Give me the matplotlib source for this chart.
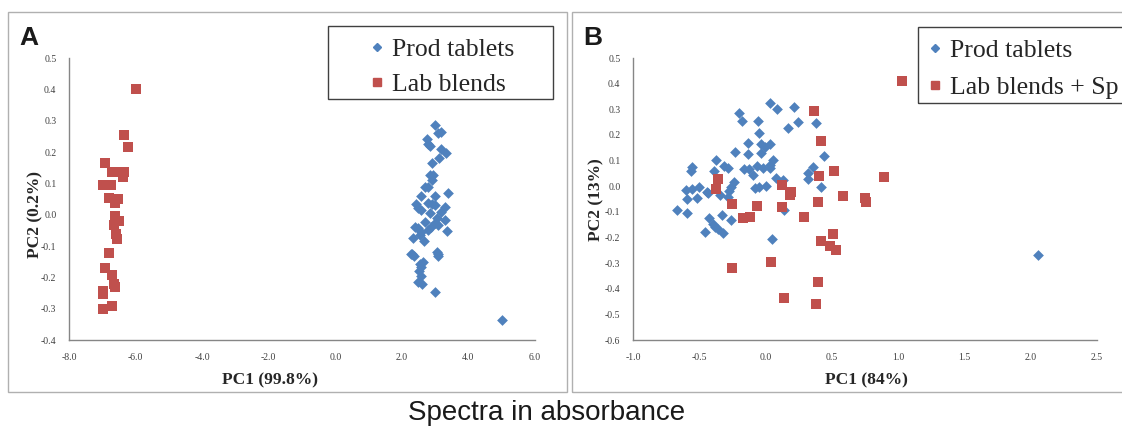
import matplotlib
matplotlib.use("Agg")
import matplotlib.pyplot as plt
from matplotlib.patches import Rectangle
from matplotlib.ticker import FormatStrFormatter

plt.rcParams['axes.unicode_minus'] = False
plt.rcParams['font.family'] = 'Liberation Serif'

# Panel A: spectra, PC1 vs PC2
a_prod_x = [2.99, 3.09, 3.19, 2.76, 2.84, 2.79, 3.19, 3.34, 3.12, 2.91, 2.84, 2.94, 2.91,
            2.79, 2.71, 3.39, 2.59, 2.99, 2.41, 2.79, 2.91, 2.99, 2.49, 3.31, 2.59, 2.84,
            3.19, 3.07, 3.29, 2.71, 2.99, 2.39, 2.47, 2.87, 3.09, 2.59, 2.79, 3.37, 2.54,
            2.34, 2.67, 2.29, 2.37, 3.07, 3.09, 2.64, 2.54, 2.57, 2.51, 2.59, 2.49, 2.61,
            2.99, 2.26, 3.09, 5.01]
a_prod_y = [0.286, 0.261, 0.265, 0.243, 0.219, 0.224, 0.211, 0.197, 0.181, 0.164, 0.126, 0.126, 0.110,
            0.087, 0.087, 0.070, 0.061, 0.061, 0.034, 0.036, 0.034, 0.030, 0.020, 0.025, 0.014, 0.006,
            0.009, -0.012, -0.018, -0.023, -0.028, -0.039, -0.044, -0.039, -0.034, -0.055, -0.050, -0.052, -0.065,
            -0.076, -0.085, -0.126, -0.133, -0.119, -0.132, -0.151, -0.158, -0.167, -0.180, -0.196, -0.215, -0.222,
            -0.247, -0.126, -0.124, -0.335]
a_lab_x = [-6.00, -6.35, -6.23, -6.92, -6.72, -6.52, -6.35, -6.97, -6.74, -6.37, -6.81, -6.52, -6.62,
           -6.62, -6.49, -6.64, -6.60, -6.55, -6.80, -6.93, -6.71, -6.64, -6.63, -6.97, -6.98, -6.99, -6.71]
a_lab_y = [0.400, 0.253, 0.216, 0.166, 0.137, 0.137, 0.137, 0.096, 0.096, 0.121, 0.052, 0.049, 0.036,
           -0.004, -0.020, -0.034, -0.063, -0.079, -0.122, -0.170, -0.192, -0.221, -0.230, -0.253, -0.245, -0.300, -0.291]

# Panel B
b_prod_x = [0.033, 0.084, -0.198, -0.176, -0.057, 0.171, -0.050, -0.135, -0.035, -0.005, 0.033, -0.233,
            -0.135, -0.035, 0.058, -0.376, 0.033, -0.557, -0.565, -0.387, -0.311, -0.281, -0.160, -0.123,
            -0.067, -0.017, 0.033, -0.093, -0.238, 0.078, 0.133, -0.263, -0.273, -0.603, -0.557, -0.500,
            -0.444, -0.432, -0.080, -0.048, 0.003, -0.595, -0.520, -0.344, -0.286, -0.666, -0.595, -0.425,
            -0.327, -0.263, -0.394, -0.382, -0.357, -0.457, -0.319, 0.046, 0.139, 0.216, 0.242, 0.380,
            0.440, 0.355, 0.317, 0.322, 0.415, 2.052]
b_prod_y = [0.323, 0.301, 0.284, 0.255, 0.255, 0.228, 0.206, 0.167, 0.163, 0.154, 0.164, 0.132,
            0.124, 0.131, 0.102, 0.101, 0.083, 0.074, 0.060, 0.058, 0.079, 0.071, 0.068, 0.067,
            0.079, 0.072, 0.070, 0.042, 0.017, 0.030, 0.024, -0.005, -0.018, -0.013, -0.012, -0.005,
            -0.022, -0.028, -0.009, -0.005, 0.000, -0.051, -0.046, -0.035, -0.041, -0.093, -0.104, -0.126,
            -0.113, -0.130, -0.146, -0.158, -0.168, -0.180, -0.184, -0.206, -0.091, 0.308, 0.252, 0.245,
            0.119, 0.073, 0.052, 0.028, -0.005, -0.267]
b_lab_x = [0.365, 0.415, 0.516, 0.405, 0.891, 0.121, 0.189, 0.184, 0.586, 0.752, 0.757, 0.393,
           0.126, 0.290, 0.506, 0.415, 0.486, 0.529, 0.393, 0.139, 0.380, 1.030, -0.357, -0.376,
           -0.256, -0.063, -0.173, -0.118, -0.256, 0.040]
b_lab_y = [0.294, 0.177, 0.059, 0.041, 0.036, 0.005, -0.021, -0.034, -0.038, -0.045, -0.062, -0.061,
           -0.080, -0.122, -0.187, -0.213, -0.234, -0.249, -0.373, -0.437, -0.460, 0.411, 0.029, -0.010,
           -0.069, -0.079, -0.126, -0.119, -0.319, -0.297]

blue = '#4F81BD'
red = '#C0504D'
W, H = 1122, 429

fig = plt.figure(figsize=(W / 100, H / 100), dpi=100)

def fx(px):
    return px / W

def fy(py):
    return 1 - py / H

# panel frames
for x0, x1 in [(8, 567), (572, 1135)]:
    fig.patches.append(Rectangle((fx(x0), fy(392)), fx(x1 - x0), (392 - 12) / H,
                                 transform=fig.transFigure, fill=False,
                                 edgecolor='#B0B0B0', linewidth=1))

def setup(ax, xlim, ylim, xstep, ystep):
    ax.set_xlim(*xlim)
    ax.set_ylim(*ylim)
    ax.set_xticks([xlim[0] + i * xstep for i in range(int(round((xlim[1] - xlim[0]) / xstep)) + 1)])
    ax.set_yticks([ylim[0] + i * ystep for i in range(int(round((ylim[1] - ylim[0]) / ystep)) + 1)])
    ax.xaxis.set_major_formatter(FormatStrFormatter('%.1f'))
    ax.yaxis.set_major_formatter(FormatStrFormatter('%.1f'))
    for s in ['top', 'right']:
        ax.spines[s].set_visible(False)
    for s in ['left', 'bottom']:
        ax.spines[s].set_color('#868686')
        ax.spines[s].set_linewidth(1)
    ax.tick_params(length=0, labelsize=7, labelcolor='#404040')
    ax.tick_params(axis='y', pad=9)
    ax.tick_params(axis='x', pad=9)
    ax.patch.set_alpha(0)

def add_legend(ax, labels, x, ytop, spacing):
    h1 = plt.Line2D([], [], ls='none', marker='D', ms=4, color=blue, mec=blue)
    h2 = plt.Line2D([], [], ls='none', marker='s', ms=5.5, color=red, mec=red)
    leg = ax.legend([h1, h2], labels, loc='upper left',
                    bbox_to_anchor=(fx(x), fy(ytop)), bbox_transform=fig.transFigure,
                    frameon=False, borderpad=0, borderaxespad=0, handlelength=0.6,
                    handletextpad=0.3, labelspacing=spacing,
                    prop={'family': 'Liberation Serif', 'size': 18.5})
    for t in leg.get_texts():
        t.set_color('#262626')
    return leg

# ---- panel A
axA = fig.add_axes([fx(69), fy(340), fx(535 - 69), (340 - 58) / H])
axA.scatter(a_prod_x, a_prod_y, marker='D', s=30, color=blue, linewidths=0, zorder=3)
axA.scatter(a_lab_x, a_lab_y, marker='s', s=50, color=red, linewidths=0, zorder=3)
setup(axA, (-8, 6), (-0.4, 0.5), 2, 0.1)
fig.patches.append(Rectangle((fx(328), fy(99)), fx(553 - 328), (99 - 26) / H,
                             transform=fig.transFigure, fill=False, edgecolor='#404040', linewidth=1))
add_legend(axA, ['Prod tablets', 'Lab blends'], 369, 38, 0.45)
fig.text(fx(270), fy(380), 'PC1 (99.8%)', ha='center', va='center', fontsize=12.5, fontweight='bold', color='#262626')
fig.text(fx(35), fy(215), 'PC2 (0.2%)', ha='center', va='center', rotation=90, fontsize=12.5, fontweight='bold', color='#262626')
fig.text(fx(19), fy(45), 'A', fontsize=19, fontweight='bold', family='Liberation Sans', color='#1a1a1a')

# ---- panel B
axB = fig.add_axes([fx(633), fy(340), fx(1097 - 633), (340 - 58) / H])
axB.scatter(b_prod_x, b_prod_y, marker='D', s=30, color=blue, linewidths=0, zorder=3)
axB.scatter(b_lab_x, b_lab_y, marker='s', s=50, color=red, linewidths=0, zorder=4)
setup(axB, (-1.0, 2.5), (-0.6, 0.5), 0.5, 0.1)
fig.patches.append(Rectangle((fx(918), fy(103)), fx(1140 - 918), (103 - 27) / H,
                             transform=fig.transFigure, fill=False, edgecolor='#404040', linewidth=1))
add_legend(axB, ['Prod tablets', 'Lab blends + Sp'], 927, 39, 0.55)
fig.text(fx(866), fy(380), 'PC1 (84%)', ha='center', va='center', fontsize=12.5, fontweight='bold', color='#262626')
fig.text(fx(596), fy(200), 'PC2 (13%)', ha='center', va='center', rotation=90, fontsize=12.5, fontweight='bold', color='#262626')
fig.text(fx(583), fy(45), 'B', fontsize=19, fontweight='bold', family='Liberation Sans', color='#1a1a1a')

fig.text(fx(547), fy(413), 'Spectra in absorbance', ha='center', va='center', fontsize=20,
         family='Liberation Sans', color='#1a1a1a')

fig.savefig('out.png', dpi=100)
